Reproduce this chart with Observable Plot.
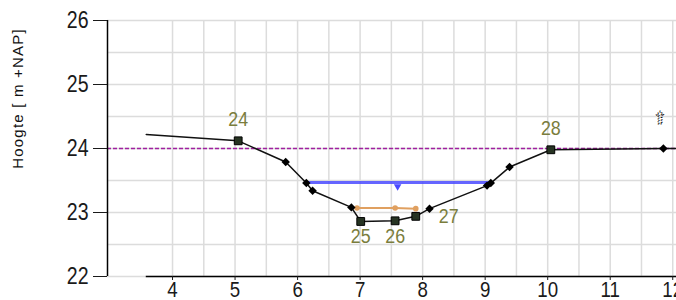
<!DOCTYPE html>
<html><head><meta charset="utf-8">
<script src="https://cdn.jsdelivr.net/npm/d3@7"></script>
<script src="https://cdn.jsdelivr.net/npm/@observablehq/plot@0.6"></script>
<style>body{margin:0;background:#fff;} svg{display:block}</style>
</head><body><div id="chart"></div>
<script>
// Cross-section profile (distance along profile, height m +NAP)
const profileX = [3.58, 5.05, 5.81, 6.14, 6.24, 6.86, 7.01, 7.56, 7.89, 8.11, 9.03, 9.09, 9.39, 10.05, 11.85, 12.3];
const profileY = [24.22, 24.12, 23.79, 23.46, 23.34, 23.08, 22.86, 22.87, 22.94, 23.06, 23.42, 23.46, 23.71, 23.98, 24.0, 24.0];
const profileKind = ["none","square","diamond","diamond","diamond","diamond","square","square","square","diamond","diamond","diamond","diamond","square","diamond","none"];
// Numbered points
const pointIds = ["24", "25", "26", "27", "28"];
const pointX = [5.05, 7.01, 7.56, 7.89, 10.05];
const pointY = [24.12, 22.86, 22.87, 22.94, 23.98];
// Water level
const waterX = [6.14, 9.09];
const waterLevel = 23.47;
const waterMarkX = 7.6;
// Bed level (orange)
const bedX = [6.95, 7.56, 7.89];
const bedY = [23.07, 23.07, 23.06];
// Reference level
const refLevel = 24.0;
// North-arrow like symbol
const symbolX = 11.8, symbolY = 24.47;
// Axes
const xTicks = [4, 5, 6, 7, 8, 9, 10, 11, 12];
const yTicks = [22, 23, 24, 25, 26];
const yTitle = "Hoogte [ m +NAP]";

const profile = profileX.map((x, i) => ({x, y: profileY[i], kind: profileKind[i]}));
const points = pointIds.map((id, i) => ({id, x: pointX[i], y: pointY[i]}));
const bed = bedX.map((x, i) => ({x, y: bedY[i]}));
const xMin = 2.96, xMax = 12.06;
const gridXs = d3.range(4, 12.01, 0.5);
const gridYs = d3.range(22, 26.01, 0.5);
const labelSide = {"24": "above", "25": "below", "26": "below", "27": "right", "28": "above"};
const sideOffset = {above: [0, -22], below: [0, 15], right: [33, 0]};
const labelColor = "#7a7d3c";
const sans = "'Liberation Sans', Arial, sans-serif";

const labelMarks = Object.entries(sideOffset).map(([side, [dx, dy]]) =>
  Plot.text(points.filter(p => labelSide[p.id] === side), {
    x: "x", y: "y", text: "id", dx, dy, fontSize: 21, fill: labelColor, lineAnchor: "middle"
  })
);

const chart = Plot.plot({
  width: 676, height: 300,
  marginLeft: 107, marginRight: 0, marginTop: 20, marginBottom: 24,
  x: {domain: [xMin, xMax]},
  y: {domain: [22, 26]},
  style: {fontFamily: sans, background: "#fff", overflow: "hidden"},
  marks: [
    Plot.ruleX(gridXs, {stroke: "#dcdcdc", strokeWidth: 1.5, strokeOpacity: 1}),
    Plot.ruleY(gridYs, {stroke: "#dcdcdc", strokeWidth: 1.5, strokeOpacity: 1}),
    Plot.ruleY([refLevel], {stroke: "#a020a0", strokeWidth: 1.5, strokeDasharray: "4,2"}),
    Plot.ruleX([xMin], {y1: 22, y2: 26, stroke: "#000", strokeWidth: 1.5}),
    Plot.ruleY([22], {x1: profileX[0], x2: xMax, stroke: "#000", strokeWidth: 1.5}),
    Plot.axisY({ticks: yTicks, tickFormat: d3.format("d"), tickSize: 14, tickPadding: 5, fontSize: 23, label: null, color: "#1a1a1a"}),
    Plot.axisX({ticks: xTicks, tickFormat: d3.format("d"), tickSize: 4, tickPadding: 1, fontSize: 22, label: null, color: "#1a1a1a"}),
    Plot.text([yTitle], {frameAnchor: "left", textAnchor: "middle", rotate: -90, dx: -89, dy: -50, fontSize: 15, fill: "#111"}),
    // water level
    Plot.lineY(waterX.map(x => ({x, y: waterLevel})), {x: "x", y: "y", stroke: "#4a4aff", strokeWidth: 3, strokeOpacity: 0.85}),
    Plot.dot([waterMarkX], {x: d => d, y: () => waterLevel, symbol: "triangle", rotate: 180, r: 2.8, fill: "#4a4aff", dy: 4}),
    // bed
    Plot.line(bed, {x: "x", y: "y", stroke: "#e0a060", strokeWidth: 2}),
    Plot.dot(bed, {x: "x", y: "y", r: 2.8, fill: "#e0a060"}),
    // profile
    Plot.line(profile, {x: "x", y: "y", stroke: "#111", strokeWidth: 1.5}),
    Plot.dot(profile.filter(d => d.kind === "diamond"), {x: "x", y: "y", symbol: "diamond2", r: 3.8, fill: "#000"}),
    Plot.dot(profile.filter(d => d.kind === "square"), {x: "x", y: "y", symbol: "square", r: 4.4, fill: "#263322", stroke: "#000", strokeWidth: 1}),
    ...labelMarks,
    Plot.text(["⇧"], {x: () => symbolX, y: () => symbolY, fontSize: 17, fill: "none", stroke: "#000", strokeWidth: 1, strokeDasharray: "1,1.6", fontFamily: "'DejaVu Sans', sans-serif"})
  ]
});
document.getElementById("chart").appendChild(chart);

const svg = d3.select(chart);
// Wider spacing in the y title, like the reference
svg.selectAll("text").filter(function() { return this.textContent === yTitle; })
  .style("letter-spacing", "1.2px");

// Condense the tick and point label glyphs horizontally (narrow UI font look)
const condense = function() {
  const b = this.getBBox();
  const anchor = getComputedStyle(this).textAnchor;
  const ax = anchor === "end" ? b.x + b.width : anchor === "start" ? b.x : b.x + b.width / 2;
  const t = this.getAttribute("transform") || "";
  this.setAttribute("transform", `${t} translate(${ax},0) scale(0.85,1) translate(${-ax},0)`);
};
svg.selectAll("g[aria-label='y-axis tick label'] text, g[aria-label='x-axis tick label'] text").each(condense);
svg.selectAll("g[aria-label='text'] text").filter(function() { return pointIds.includes(this.textContent); }).each(condense);
</script>
</body></html>
